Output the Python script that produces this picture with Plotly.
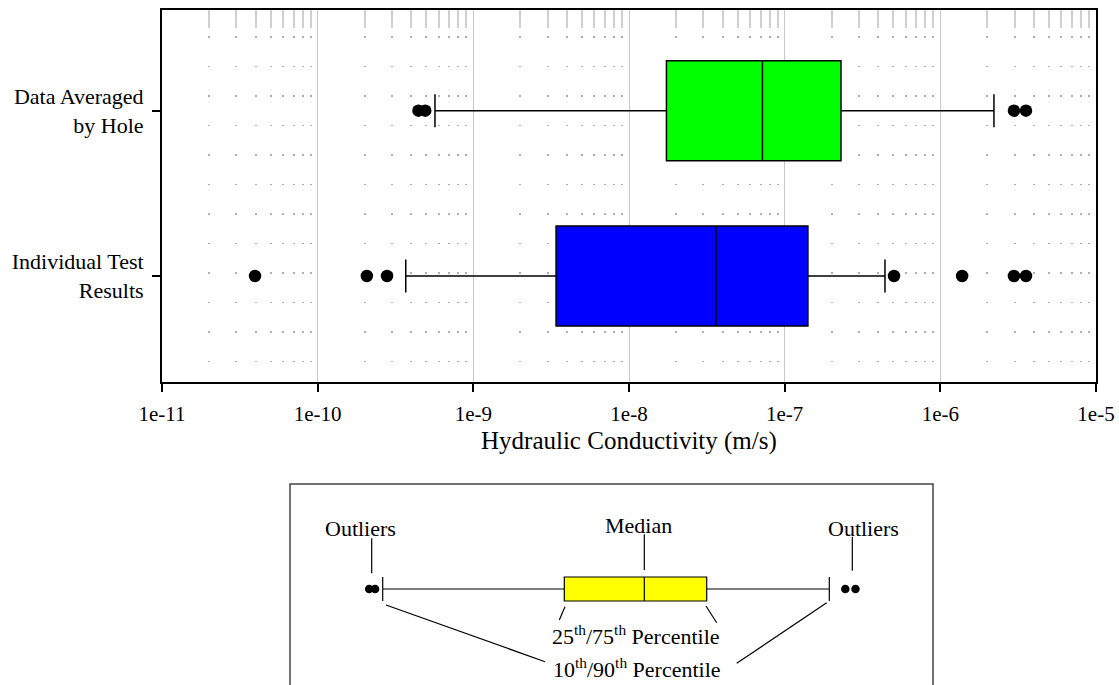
import plotly.graph_objects as go

# ---- data: hydraulic conductivity summary (m/s) ----
group_labels = ["Individual Test<br>Results", "Data Averaged<br>by Hole"]
group_pos = [0, 1]
box_fill = ["#0000ff", "#00ff00"]
p10 = [3.68e-10, 5.67e-10]
q1 = [3.40e-9, 1.74e-8]
median = [3.62e-8, 7.20e-8]
q3 = [1.41e-7, 2.30e-7]
p90 = [4.41e-7, 2.21e-6]
outliers_individual = [3.96e-11, 2.07e-10, 2.79e-10, 5.04e-7, 1.38e-6, 2.97e-6, 3.55e-6]
outliers_by_hole = [4.44e-10, 4.91e-10, 2.97e-6, 3.55e-6]

decade_ticks = [1e-11, 1e-10, 1e-9, 1e-8, 1e-7, 1e-6, 1e-5]
decade_labels = ["1e-11", "1e-10", "1e-9", "1e-8", "1e-7", "1e-6", "1e-5"]
minor_ticks = [k * d for d in decade_ticks[:-1] for k in range(2, 10)]

# ---- key diagram (schematic units) ----
key_p10, key_q1, key_med, key_q3, key_p90 = 92.7, 274.3, 354.3, 416.7, 539.3
key_outliers = [79.2, 85.1, 555.3, 565.5]
key_row = 105

FONT = "Liberation Serif, Times New Roman, serif"
W, H = 1119, 685
ML, MR, MT, MB = 162, 23, 10, 0
PW, PH = W - ML - MR, H - MT - MB


def px_x(px):
    return (px - ML) / PW


def px_y(py):
    return (H - MB - py) / PH


fig = go.Figure()

outlier_sets = [outliers_individual, outliers_by_hole]
for i in range(2):
    fig.add_trace(go.Box(
        y=[group_pos[i]], q1=[q1[i]], median=[median[i]], q3=[q3[i]],
        lowerfence=[p10[i]], upperfence=[p90[i]], orientation="h",
        fillcolor=box_fill[i], line=dict(color="black", width=1.5),
        whiskerwidth=0.33, width=0.605, boxpoints=False,
        showlegend=False, hoverinfo="skip", xaxis="x", yaxis="y"))
    fig.add_trace(go.Scatter(
        x=outlier_sets[i], y=[group_pos[i]] * len(outlier_sets[i]),
        mode="markers", marker=dict(color="black", size=12.5),
        showlegend=False, hoverinfo="skip", xaxis="x", yaxis="y"))

# invisible trace so the top tick axis is drawn
fig.add_trace(go.Scatter(x=[1e-8], y=[None], mode="markers", showlegend=False,
                         hoverinfo="skip", xaxis="x4", yaxis="y"))

# key diagram
fig.add_trace(go.Box(
    y=[key_row], q1=[key_q1], median=[key_med], q3=[key_q3],
    lowerfence=[key_p10], upperfence=[key_p90], orientation="h",
    fillcolor="#ffff00", line=dict(color="black", width=1.2),
    whiskerwidth=1, width=24, boxpoints=False,
    showlegend=False, hoverinfo="skip", xaxis="x3", yaxis="y3"))
fig.add_trace(go.Scatter(
    x=key_outliers, y=[key_row] * len(key_outliers), mode="markers",
    marker=dict(color="black", size=8.5), showlegend=False, hoverinfo="skip",
    cliponaxis=False, xaxis="x3", yaxis="y3"))

fig.update_layout(
    width=W, height=H,
    margin=dict(l=ML, r=MR, t=MT, b=MB),
    paper_bgcolor="white", plot_bgcolor="white",
    font=dict(family=FONT, color="black"),
    xaxis=dict(
        type="log", range=[-11, -5], domain=[0, 1], anchor="y",
        tickmode="array", tickvals=decade_ticks, ticktext=decade_labels,
        ticks="outside", ticklen=8, tickwidth=1.5, tickcolor="black",
        tickfont=dict(family=FONT, size=21, color="black"), ticklabelstandoff=4,
        showline=True, linecolor="black", linewidth=2, mirror=True,
        showgrid=True, gridcolor="#c8c8c8", gridwidth=1, zeroline=False,
        minor=dict(tickmode="array", tickvals=minor_ticks, ticks="",
                   showgrid=True, gridcolor="#b0b0b0", gridwidth=1.5,
                   griddash="0px,26px,1.5px,2px"),
    ),
    xaxis4=dict(
        type="log", range=[-11, -5], overlaying="x", side="top", anchor="y",
        showgrid=False, showline=False, zeroline=False, ticks="",
        showticklabels=False,
        minor=dict(tickmode="array", tickvals=minor_ticks, ticks="inside",
                   ticklen=18, tickwidth=1.5, tickcolor="#d0d0d0", showgrid=False),
    ),
    yaxis=dict(
        range=[-0.641, 1.609], domain=[px_y(382), 1], anchor="x",
        tickmode="array", tickvals=group_pos, ticktext=group_labels,
        ticks="outside", ticklen=8, tickwidth=1.5, tickcolor="black",
        tickfont=dict(family=FONT, size=22, color="black"), ticklabelstandoff=4,
        showline=True, linecolor="black", linewidth=2, mirror=True,
        showgrid=False, zeroline=False,
    ),
    xaxis3=dict(domain=[px_x(290), px_x(933)], range=[0, 643], anchor="y3",
                visible=False),
    yaxis3=dict(domain=[0, px_y(484)], range=[201, 0], anchor="x3",
                visible=False),
)

# x-axis title
fig.add_annotation(x=0.5, y=px_y(441), xref="paper", yref="paper",
                   text="Hydraulic Conductivity (m/s)", showarrow=False,
                   font=dict(family=FONT, size=25, color="black"),
                   xanchor="center", yanchor="middle")

# key frame
fig.add_shape(type="rect", xref="paper", yref="paper",
              x0=px_x(290), x1=px_x(933), y0=-0.05, y1=px_y(484),
              line=dict(color="#444444", width=1.5), fillcolor="rgba(0,0,0,0)")

# key leader lines
leaders = [
    (81.7, 54.3, 81.7, 89.3),
    (key_med, 50.3, key_med, 86),
    (562.3, 52.7, 562.3, 86.7),
    (key_q1 + 0.7, 122.7, key_q1 - 5, 136),
    (key_q3 - 0.7, 122, key_q3 + 10, 138.7),
    (key_p10 + 3.3, 121, 255, 177.7),
    (key_p90 - 2.6, 118.7, 446.7, 179.3),
]
for x0, y0, x1, y1 in leaders:
    fig.add_shape(type="line", xref="x3", yref="y3", x0=x0, y0=y0, x1=x1, y1=y1,
                  line=dict(color="black", width=1.2))

key_font = dict(family=FONT, size=22, color="black")
key_texts = [
    (70.3, 44, "Outliers"),
    (348.3, 41, "Median"),
    (573.6, 44, "Outliers"),
    (345.8, 151, "25<sup>th</sup>/75<sup>th</sup> Percentile"),
    (347, 184, "10<sup>th</sup>/90<sup>th</sup> Percentile"),
]
for x, y, t in key_texts:
    fig.add_annotation(x=x, y=y, xref="x3", yref="y3", text=t, showarrow=False,
                       font=key_font, xanchor="center", yanchor="middle")

fig.write_html("out.html")
